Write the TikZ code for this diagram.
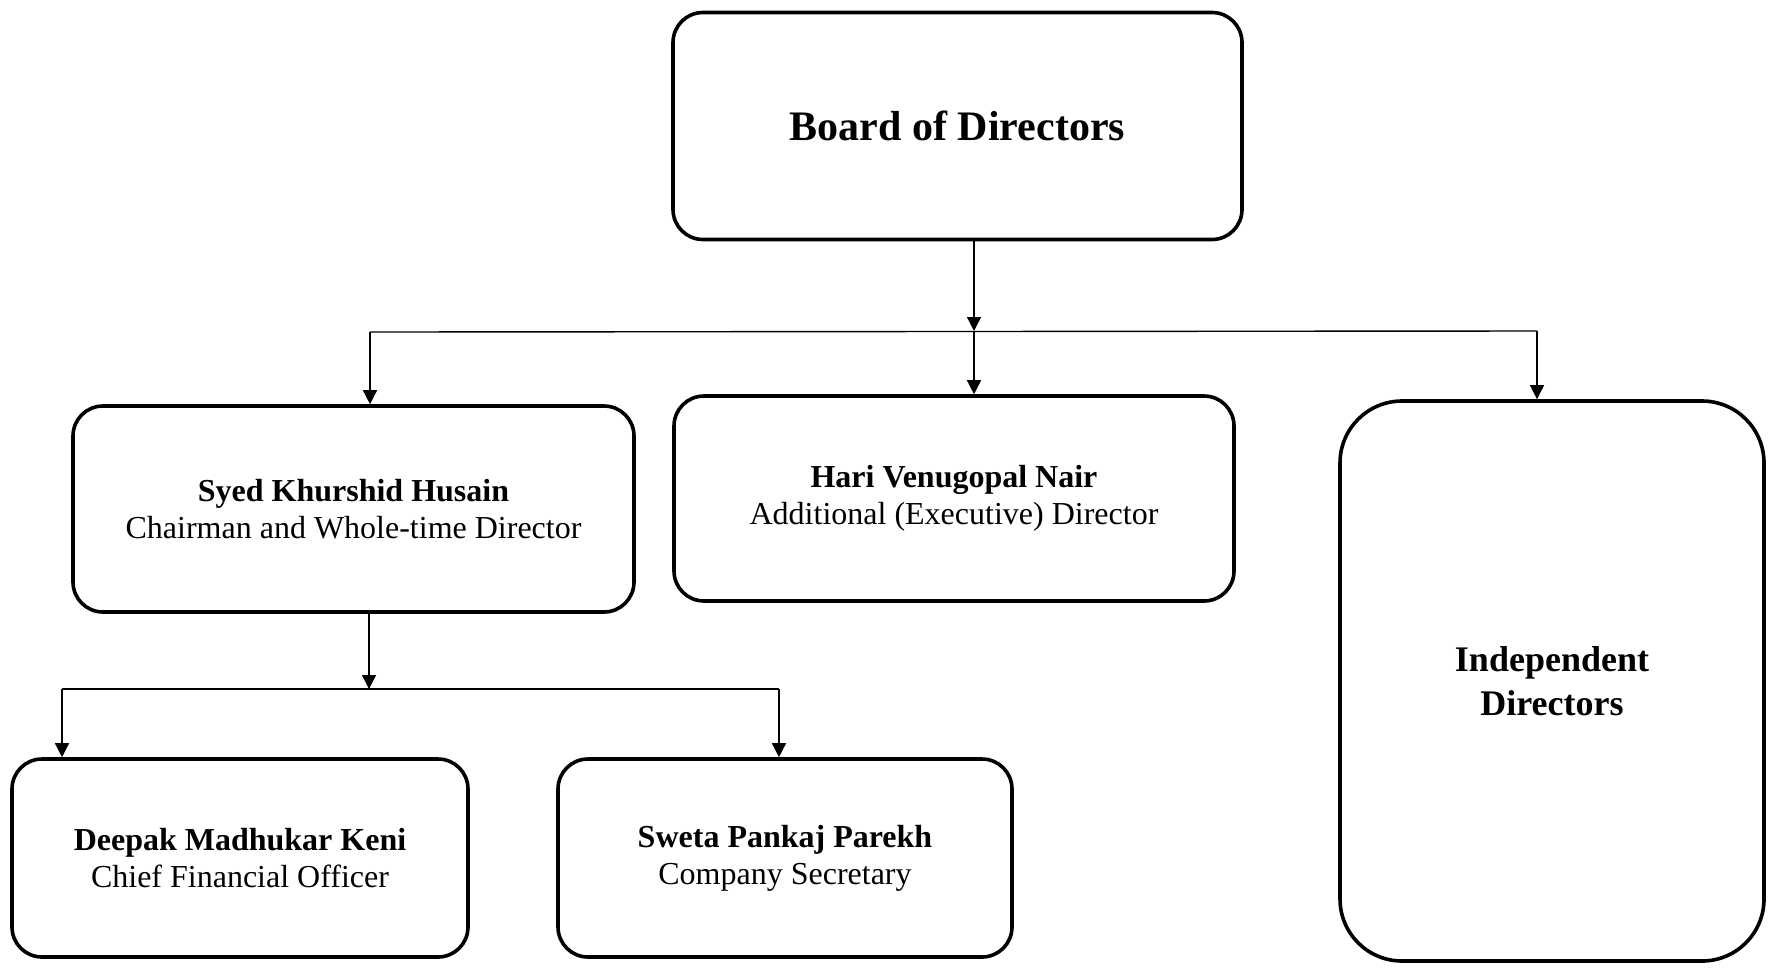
\documentclass[tikz,border=0pt]{standalone}
\usepackage{fontspec}
\setmainfont{Liberation Serif}
\usetikzlibrary{arrows.meta}
\tikzset{
  box/.style={draw=black, line width=3.6pt, rounded corners=30pt, rectangle, align=center, inner sep=0pt, fill=white},
  conn/.style={draw=black, line width=1.4pt},
  arr/.style={conn, -{Triangle[length=14pt,width=14pt]}},
  nm/.style={font=\fontsize{32}{37}\selectfont},
}
\begin{document}
\begin{tikzpicture}[x=1pt,y=-1pt]
\path[use as bounding box] (0,0) rectangle (1776,970);
\node[box, minimum width=569pt, minimum height=227pt, font=\fontsize{42}{48}\selectfont\bfseries] (board) at (957.5,126) {Board of Directors};
\node[box, minimum width=561pt, minimum height=206pt, nm] (syed) at (353.5,509) {\textbf{Syed Khurshid Husain}\\Chairman and Whole-time Director};
\node[box, minimum width=560pt, minimum height=205pt, nm] (hari) at (954,498.5) {\textbf{Hari Venugopal Nair}\\Additional (Executive) Director};
\node[box, rounded corners=62pt, minimum width=424pt, minimum height=560pt, font=\fontsize{36}{44}\selectfont\bfseries] (ind) at (1552,681) {Independent\\Directors};
\node[box, minimum width=456pt, minimum height=198pt, nm] (deepak) at (240,858) {\textbf{Deepak Madhukar Keni}\\Chief Financial Officer};
\node[box, minimum width=454pt, minimum height=198pt, nm] (sweta) at (785,858) {\textbf{Sweta Pankaj Parekh}\\Company Secretary};
% top level connectors
\coordinate (j1) at (974,331);
\coordinate (jL) at (370,332);
\coordinate (jR) at (1537,331);
\draw[arr] (board.south -| j1) -- (j1);
\draw[arr] (j1) -- (hari.north -| j1);
\draw[conn] (jL) -- (jR);
\draw[arr] (jL) -- (jL |- syed.north);
\draw[arr] (jR) -- (jR |- ind.north);
% second level connectors
\coordinate (j2) at (369,689);
\coordinate (jDL) at (62,689);
\coordinate (jDR) at (779,689);
\draw[arr] (syed.south -| j2) -- (j2);
\draw[conn] (jDL) -- (jDR);
\draw[arr] (jDL) -- (jDL |- deepak.north);
\draw[arr] (jDR) -- (jDR |- sweta.north);
\end{tikzpicture}
\end{document}
